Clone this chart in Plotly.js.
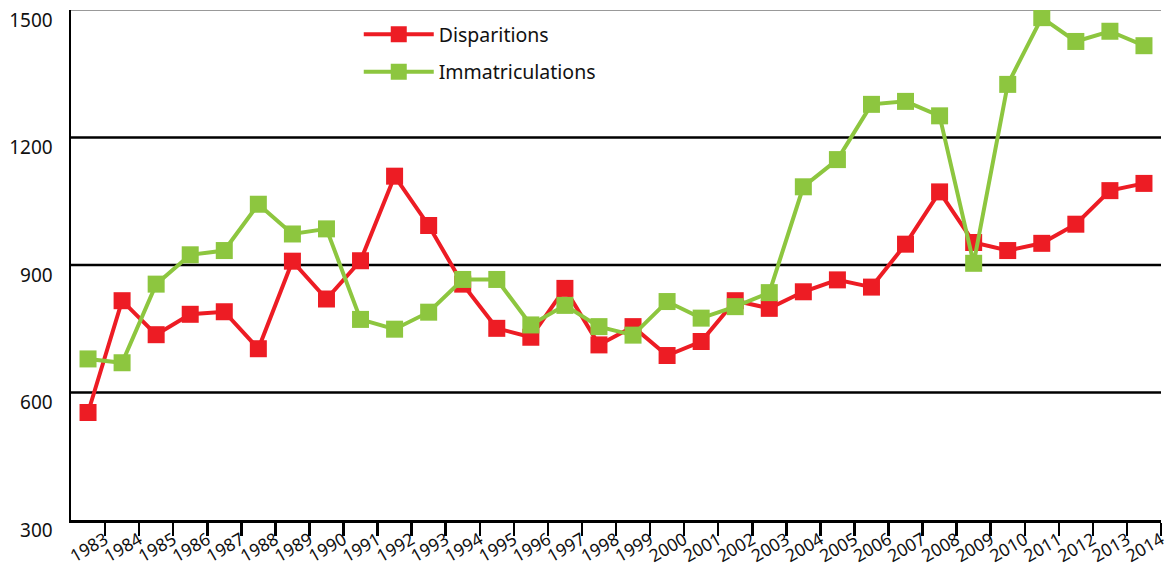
<!DOCTYPE html>
<html>
<head>
<meta charset="utf-8">
<script src="https://cdn.plot.ly/plotly-3.0.1.min.js"></script>
<style>html,body{margin:0;padding:0;background:#fff;}#chart{width:1172px;height:571px;}</style>
</head>
<body>
<div id="chart"></div>
<script>
const years = [1983,1984,1985,1986,1987,1988,1989,1990,1991,1992,1993,1994,1995,1996,1997,1998,1999,2000,2001,2002,2003,2004,2005,2006,2007,2008,2009,2010,2011,2012,2013,2014];
const disparitions = [553,816,736,784,790,703,909,820,910,1109,993,855,751,730,845,712,755,687,720,816,798,837,865,848,949,1072,953,934,951,996,1075,1092];
const immatriculations = [679,670,855,924,934,1043,973,985,772,749,789,866,866,759,805,755,735,814,775,802,835,1084,1148,1278,1285,1251,904,1325,1482,1426,1450,1416];
const yTicks = [300,600,900,1200,1500];
const gridValues = [600,900,1200];

const RED = '#ED1C24', GREEN = '#8DC63F';
const FONT = 'Noto Sans, sans-serif';

const traces = [
  {x: years, y: disparitions, name: 'Disparitions', mode: 'lines+markers', legendgroup: 'a',
   line: {color: RED, width: 4}, marker: {symbol: 'square', size: 17, color: RED}},
  {x: years, y: immatriculations, name: 'Immatriculations', mode: 'lines+markers', legendgroup: 'b',
   line: {color: GREEN, width: 4}, marker: {symbol: 'square', size: 17, color: GREEN}}
];

const shapes = gridValues.map(v => ({type: 'line', xref: 'paper', x0: 0, x1: 1, yref: 'y', y0: v, y1: v,
  line: {color: '#000', width: 2.5}, layer: 'below'}));
shapes.push({type: 'line', xref: 'paper', x0: 0, x1: 1, yref: 'y', y0: 1500, y1: 1500,
  line: {color: '#999999', width: 2}, layer: 'below'});

const layout = {
  width: 1172, height: 571,
  margin: {l: 71, r: 11, t: 10, b: 51},
  paper_bgcolor: '#fff', plot_bgcolor: '#fff',
  font: {family: FONT, color: '#111', size: 17},
  showlegend: true,
  legend: {x: 0.264, y: 0.99, xanchor: 'left', yanchor: 'top', bgcolor: 'rgba(0,0,0,0)',
    font: {size: 19.5, family: FONT}, itemwidth: 70, tracegroupgap: 9},
  xaxis: {type: 'linear', range: [years[0]-0.5, years[years.length-1]+0.5],
    tickvals: years.map(y => y + 0.5), ticktext: years.map(String),
    tickangle: -30, ticks: 'outside', ticklen: 13, tickwidth: 2.5, tickcolor: '#000',
    showline: true, linecolor: '#000', linewidth: 3, showgrid: false, zeroline: false,
    ticklabelstandoff: -13,
    tickfont: {size: 17.5, family: FONT}, fixedrange: true},
  yaxis: {range: [300, 1500], tickvals: yTicks, ticktext: yTicks.map(String),
    ticks: '', showline: true, linecolor: '#000', linewidth: 2.5, showgrid: false, zeroline: false,
    ticklabelshift: 10, ticklabelstandoff: 12,
    tickfont: {size: 19, family: FONT}, fixedrange: true},
  shapes: shapes
};

Plotly.newPlot('chart', traces, layout, {displayModeBar: false, staticPlot: true});
</script>
</body>
</html>
